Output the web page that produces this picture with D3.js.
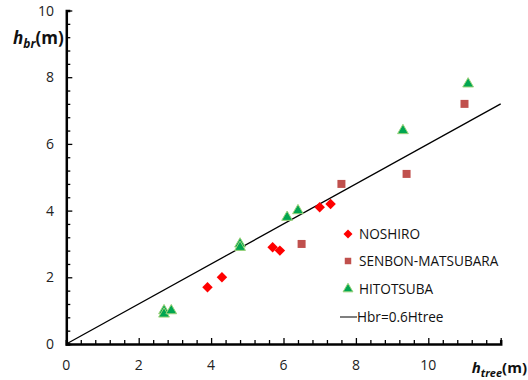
<!DOCTYPE html>
<html>
<head>
<meta charset="utf-8" />
<script src="https://cdn.jsdelivr.net/npm/d3@7"></script>
<style>
  body { margin: 0; background: #fff; }
  text { font-family: "Open Sans", "Noto Sans", sans-serif; }
</style>
</head>
<body>
<script>
var width = 528, height = 380;

// data
var noshiro = [[3.9, 1.7], [4.3, 2.0], [5.7, 2.9], [5.9, 2.8], [7.0, 4.1], [7.3, 4.2]];
var senbon = [[6.5, 3.0], [7.6, 4.8], [9.4, 5.1], [11.0, 7.2]];
var hitotsuba = [[2.7, 1.0], [2.7, 0.9], [2.9, 1.0], [4.8, 3.0], [4.8, 2.9], [6.1, 3.8], [6.4, 4.0], [9.3, 6.4], [11.1, 7.8]];
var fitLine = [[0, 0], [12, 7.2]];
var xTicks = [0, 2, 4, 6, 8, 10];
var yTicks = [0, 2, 4, 6, 8, 10];
var legendNames = ["NOSHIRO", "SENBON-MATSUBARA", "HITOTSUBA", "Hbr=0.6Htree"];

var svg = d3.select("body").append("svg")
  .attr("width", width).attr("height", height);

var x = d3.scaleLinear().domain([0, 12]).range([66.3, 500.7]);
var y = d3.scaleLinear().domain([0, 10]).range([344, 10.5]);

// axes: ticks point inward
var minorX = d3.range(0, 12.01, 0.4);
var minorY = d3.range(0, 10.01, 0.4);

var xAxis = svg.append("g").attr("transform", "translate(0," + y(0) + ")");
xAxis.call(d3.axisBottom(x).tickValues(minorX).tickSize(-4).tickFormat(""));
xAxis.selectAll(".tick line").attr("stroke-width", 1.3);
xAxis.selectAll(".tick").filter(function(d) { return Math.abs(d / 2 - Math.round(d / 2)) < 1e-6; })
  .select("line").attr("y2", -6);
xAxis.select(".domain").attr("stroke-width", 2.5);

var yAxis = svg.append("g").attr("transform", "translate(" + x(0) + ",0)");
yAxis.call(d3.axisLeft(y).tickValues(minorY).tickSize(-4).tickFormat(""));
yAxis.selectAll(".tick line").attr("stroke-width", 1.3);
yAxis.selectAll(".tick").filter(function(d) { return Math.abs(d / 2 - Math.round(d / 2)) < 1e-6; })
  .select("line").attr("x2", 6);
yAxis.select(".domain").attr("stroke-width", 2.5);

svg.append("g").selectAll("text").data(xTicks).join("text")
  .attr("x", function(d) { return x(d); }).attr("y", 370)
  .attr("text-anchor", "middle").attr("font-size", 14).attr("fill", "#222")
  .text(function(d) { return d; });

svg.append("g").selectAll("text").data(yTicks).join("text")
  .attr("x", 54).attr("y", function(d) { return y(d) + 5; })
  .attr("text-anchor", "end").attr("font-size", 14).attr("fill", "#222")
  .text(function(d) { return d; });

// axis titles
var yt = svg.append("text").attr("x", 13).attr("y", 44)
  .attr("font-size", 17).attr("font-weight", "bold").attr("fill", "#111");
yt.append("tspan").attr("font-style", "italic").text("h");
yt.append("tspan").attr("font-style", "italic").attr("font-size", 12).attr("dy", 4).text("br");
yt.append("tspan").attr("dy", -4).text("(m)");

var xt = svg.append("text").attr("x", 527).attr("y", 373).attr("text-anchor", "end")
  .attr("font-size", 15).attr("font-weight", "bold").attr("fill", "#111");
xt.append("tspan").attr("font-style", "italic").text("h");
xt.append("tspan").attr("font-style", "italic").attr("font-size", 11).attr("dy", 4).text("tree");
xt.append("tspan").attr("dy", -4).text("(m)");

// fit line
svg.append("path").datum(fitLine)
  .attr("d", d3.line().x(function(d) { return x(d[0]); }).y(function(d) { return y(d[1]); }))
  .attr("stroke", "#000").attr("stroke-width", 1.3).attr("fill", "none");

var diamond = d3.symbol().type(d3.symbolSquare).size(55);
var square = d3.symbol().type(d3.symbolSquare).size(64);
var tri = d3.symbol().type(d3.symbolTriangle).size(50);

svg.append("g").selectAll("path").data(noshiro).join("path")
  .attr("d", diamond)
  .attr("transform", function(d) { return "translate(" + x(d[0]) + "," + y(d[1]) + ") rotate(45)"; })
  .attr("fill", "#ff0000");

svg.append("g").selectAll("path").data(senbon).join("path")
  .attr("d", square)
  .attr("transform", function(d) { return "translate(" + x(d[0]) + "," + y(d[1]) + ")"; })
  .attr("fill", "#c0504d");

svg.append("g").selectAll("path").data(hitotsuba).join("path")
  .attr("d", tri)
  .attr("transform", function(d) { return "translate(" + x(d[0]) + "," + y(d[1]) + ")"; })
  .attr("fill", "#00a651").attr("stroke", "#9bd27a").attr("stroke-width", 1);

// legend
var lg = svg.append("g");
var rows = [234, 261, 289, 317];
lg.append("path").attr("d", d3.symbol().type(d3.symbolSquare).size(40))
  .attr("transform", "translate(348," + rows[0] + ") rotate(45)").attr("fill", "#ff0000");
lg.append("path").attr("d", d3.symbol().type(d3.symbolSquare).size(42))
  .attr("transform", "translate(348," + rows[1] + ")").attr("fill", "#c0504d");
lg.append("path").attr("d", d3.symbol().type(d3.symbolTriangle).size(42))
  .attr("transform", "translate(348," + rows[2] + ")").attr("fill", "#00a651")
  .attr("stroke", "#9bd27a").attr("stroke-width", 1);
lg.append("line").attr("x1", 340).attr("x2", 357).attr("y1", rows[3]).attr("y2", rows[3])
  .attr("stroke", "#555").attr("stroke-width", 1.5);
lg.selectAll("text").data(legendNames).join("text")
  .attr("x", function(d, i) { return i === 3 ? 357 : 359; })
  .attr("y", function(d, i) { return rows[i] + 5; })
  .attr("font-size", 13.6).attr("fill", "#111")
  .text(function(d) { return d; });
</script>
</body>
</html>
